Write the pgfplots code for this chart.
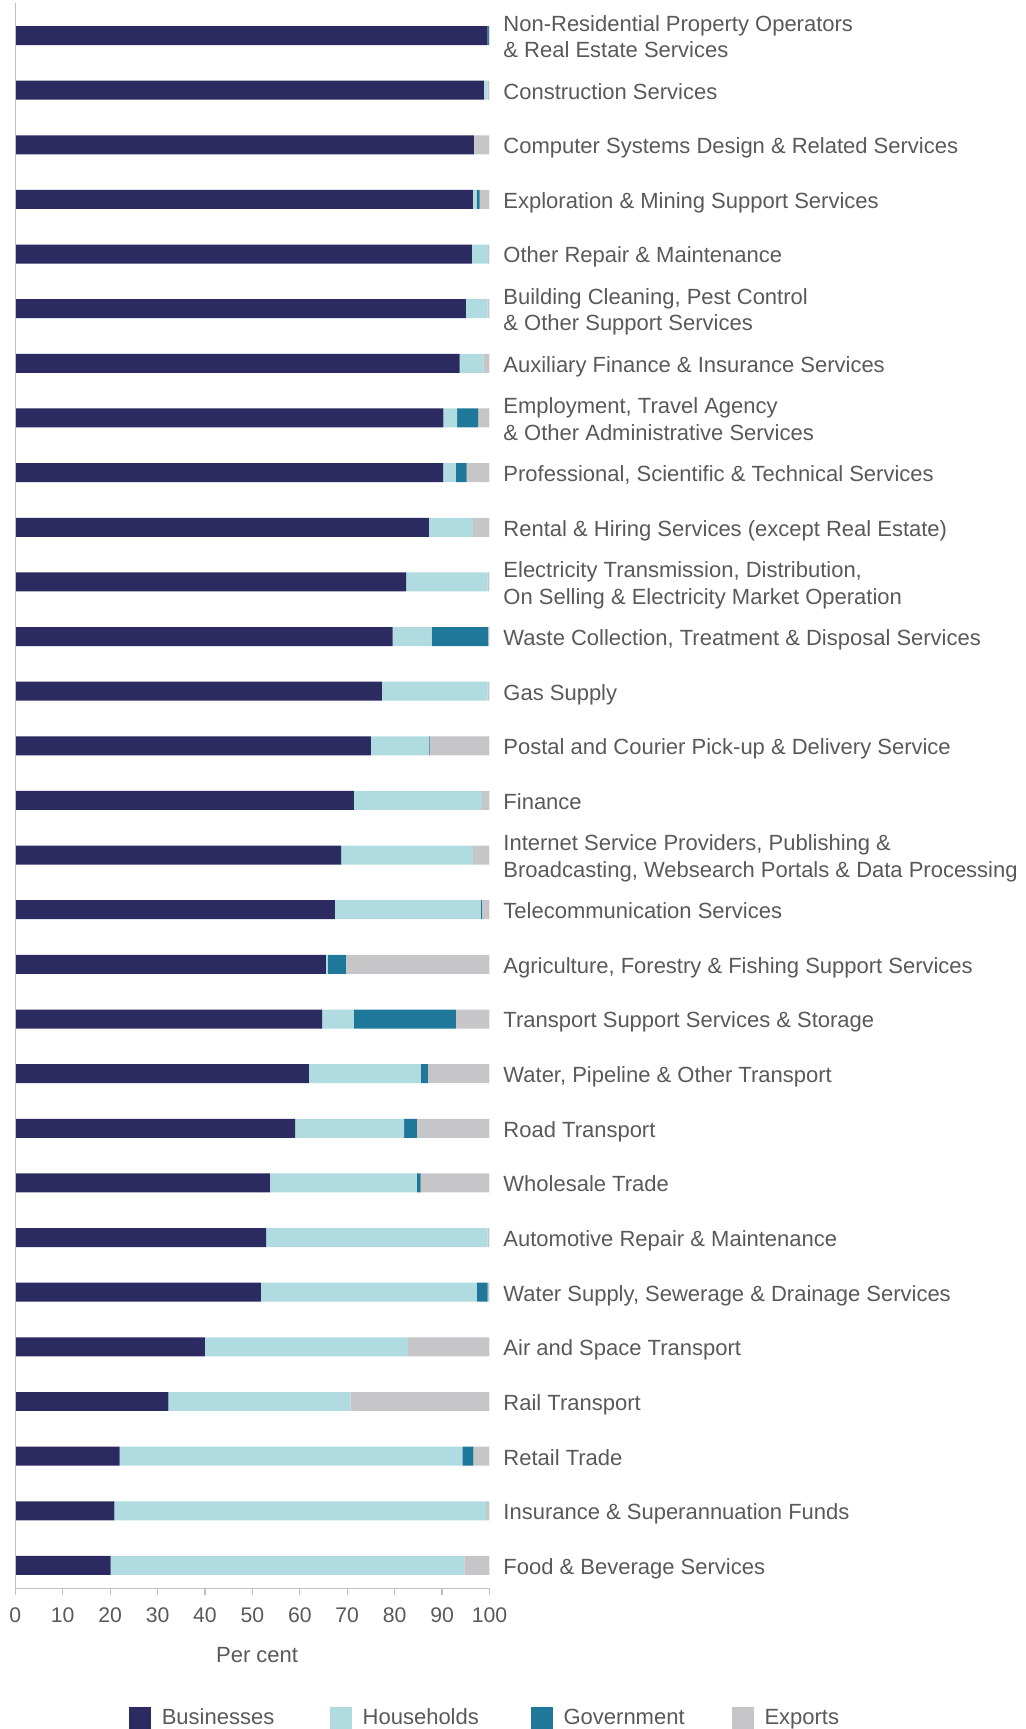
\documentclass[border=0pt]{standalone}
\usepackage{fontspec}
\setmainfont{Liberation Sans}
\usepackage{pgfplots}
\pgfplotsset{compat=1.18}
\usepackage{pgfplotstable}
\definecolor{cBus}{HTML}{2B2A61}
\definecolor{cHou}{HTML}{AFDBE1}
\definecolor{cGov}{HTML}{1F7799}
\definecolor{cExp}{HTML}{C6C6C8}
\definecolor{txt}{HTML}{595959}
\definecolor{axl}{HTML}{BFBFBF}
\newcommand{\s}{\strut}

% y = 28 is the top bar
\pgfplotstableread{
y  B     H     G     E
28 99.6  0.1   0.2   0.1
27 98.8  0.8   0     0.4
26 96.7  0     0     3.3
25 96.5  0.8   0.6   2.1
24 96.3  3.4   0     0.3
23 95.0  4.6   0     0.4
22 93.7  5.0   0     1.3
21 90.3  2.9   4.4   2.4
20 90.2  2.7   2.3   4.8
19 87.2  9.3   0     3.5
18 82.4  17.2  0     0.4
17 79.6  8.2   11.9  0.3
16 77.3  22.3  0     0.4
15 75.0  12.2  0.2   12.6
14 71.4  27.0  0     1.6
13 68.7  27.8  0     3.5
12 67.4  30.8  0.2   1.6
11 65.5  0.4   3.8   30.3
10 64.7  6.7   21.5  7.1
9  61.9  23.6  1.5   13.0
8  59.0  23.0  2.7   15.3
7  53.7  31.0  0.8   14.5
6  52.9  46.7  0     0.4
5  51.8  45.5  2.3   0.4
4  40.0  42.8  0     17.2
3  32.3  38.4  0     29.3
2  22.0  72.3  2.3   3.4
1  20.9  78.4  0     0.7
0  20.1  74.6  0     5.3
}\shares

\begin{document}
\begin{tikzpicture}
\begin{axis}[
  scale only axis, width=237.2pt, height=792.9pt,
  xbar stacked, bar width=9.5pt,
  enlargelimits=false,
  xmin=0, xmax=100, ymin=-0.42, ymax=28.59,
  axis line style={draw=none},
  tick align=outside, major tick length=3.3pt,
  xtick={0,10,...,100}, xtick pos=bottom,
  xtick style={axl, line width=0.6pt},
  /pgf/number format/assume math mode=true,
  xticklabel style={font=\fontsize{10.6}{12}\selectfont, text=txt, yshift=-2.8pt},
  ytick={0,...,28}, ytick style={draw=none}, yticklabel pos=right,
  yticklabel style={font=\fontsize{11}{13.3}\selectfont, text=txt, align=left, anchor=west, inner xsep=0pt, inner ysep=0pt, xshift=3.5pt, yshift=-1.8pt},
  yticklabels={
    {\s Food \& Beverage Services},
    {\s Insurance \& Superannuation Funds},
    {\s Retail Trade},
    {\s Rail Transport},
    {\s Air and Space Transport},
    {\s Water Supply, Sewerage \& Drainage Services},
    {\s Automotive Repair \& Maintenance},
    {\s Wholesale Trade},
    {\s Road Transport},
    {\s Water, Pipeline \& Other Transport},
    {\s Transport Support Services \& Storage},
    {\s Agriculture, Forestry \& Fishing Support Services},
    {\s Telecommunication Services},
    {\s Internet Service Providers, Publishing \&\\\s Broadcasting, Websearch Portals \& Data Processing},
    {\s Finance},
    {\s Postal and Courier Pick-up \& Delivery Service},
    {\s Gas Supply},
    {\s Waste Collection, Treatment \& Disposal Services},
    {\s Electricity Transmission, Distribution,\\\s On Selling \& Electricity Market Operation},
    {\s Rental \& Hiring Services (except Real Estate)},
    {\s Professional, Scientific \& Technical Services},
    {\s Employment, Travel Agency\\\s\& Other Administrative Services},
    {\s Auxiliary Finance \& Insurance Services},
    {\s Building Cleaning, Pest Control\\\s\& Other Support Services},
    {\s Other Repair \& Maintenance},
    {\s Exploration \& Mining Support Services},
    {\s Computer Systems Design \& Related Services},
    {\s Construction Services},
    {\s Non-Residential Property Operators\\\s\& Real Estate Services}},
  xlabel={Per cent},
  xlabel style={font=\fontsize{11}{13}\selectfont, text=txt, at={(axis description cs:0.51,0)}, anchor=center, yshift=-33.4pt},
  legend columns=4,
  legend style={draw=none, fill=none, font=\fontsize{11}{13}\selectfont, text=txt,
    at={(axis description cs:0,0)}, anchor=west, xshift=56.9pt, yshift=-65pt, inner sep=0pt,
    /tikz/every odd column/.append style={column sep=3.2pt}},
  every axis plot/.append style={draw=none, legend image code/.code={\fill[##1] (0pt,-5.5pt) rectangle (11pt,5.5pt);}},
  after end axis/.code={\draw[axl, line width=0.6pt] (rel axis cs:0,1) -- (rel axis cs:0,0) -- (rel axis cs:1,0);},
]
\addplot[fill=cBus] table[x=B, y=y] {\shares};
\addlegendentry{\makebox[82.3pt][l]{Businesses}}
\addplot[fill=cHou] table[x=H, y=y] {\shares};
\addlegendentry{\makebox[82.3pt][l]{Households}}
\addplot[fill=cGov] table[x=G, y=y] {\shares};
\addlegendentry{\makebox[82.3pt][l]{Government}}
\addplot[fill=cExp] table[x=E, y=y] {\shares};
\addlegendentry{\makebox[82.3pt][l]{Exports}}
\end{axis}
\pgfresetboundingbox
\path[use as bounding box] (-7.65pt,-70.35pt) rectangle (505.35pt,794.55pt);
\end{tikzpicture}
\end{document}
